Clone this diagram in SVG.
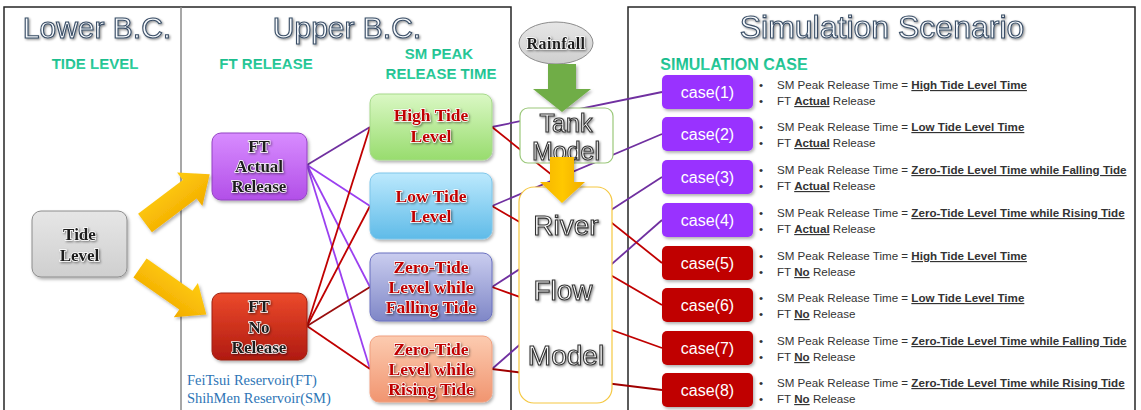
<svg xmlns="http://www.w3.org/2000/svg" width="1141" height="410" viewBox="0 0 1141 410">
<defs>
<style>
.frame{stroke:#262626;stroke-width:1.5;fill:none}
.ttl{font-family:"Liberation Sans",Arial,sans-serif;font-size:30px;fill:#f7fafd;stroke:#3a4e66;stroke-width:1.1px;text-anchor:middle}
.sub{font-family:"Liberation Sans",Arial,sans-serif;font-size:15px;font-weight:bold;fill:url(#gTeal);text-anchor:middle}
.big{font-family:"Liberation Sans",Arial,sans-serif;font-size:28px;fill:#ffffff;stroke:#333333;stroke-width:1.1px;text-anchor:middle}
.lbl{font-family:"Liberation Serif","Times New Roman",serif;font-weight:bold;font-size:17px;fill:#1c1c1c;stroke:#ffffff;stroke-width:1.4px;paint-order:stroke;text-anchor:middle}
.rlbl{font-family:"Liberation Serif","Times New Roman",serif;font-weight:bold;font-size:17.5px;fill:#c00000;stroke:#ffffff;stroke-width:1.4px;paint-order:stroke;text-anchor:middle}
.case{font-family:"Liberation Sans",Arial,sans-serif;font-size:16px;fill:#ffffff;text-anchor:middle}
.bul{font-family:"Liberation Sans",Arial,sans-serif;font-size:11.6px;fill:#333333}
.b{font-weight:bold;text-decoration:underline}
.note{font-family:"Liberation Serif","Times New Roman",serif;font-size:14.5px;fill:#2e75b6}
.cp{stroke:#9b40f0;stroke-width:1.8;fill:none}
.cr{stroke:#c00000;stroke-width:1.8;fill:none}
.pc{fill:#9933ff}
.rc{fill:#c00000}
</style>
<linearGradient id="gTeal" x1="0" y1="0" x2="0" y2="1"><stop offset="0" stop-color="#12b585"/><stop offset="1" stop-color="#3ad6a6"/></linearGradient>
<linearGradient id="gPurp" x1="0" y1="0" x2="0" y2="1"><stop offset="0" stop-color="#d88cff"/><stop offset="1" stop-color="#b24fe8"/></linearGradient>
<linearGradient id="gRed" x1="0" y1="0" x2="0" y2="1"><stop offset="0" stop-color="#ec4a2c"/><stop offset="1" stop-color="#b01a10"/></linearGradient>
<linearGradient id="gGreen" x1="0" y1="0" x2="0" y2="1"><stop offset="0" stop-color="#daf8c4"/><stop offset="1" stop-color="#98dc6e"/></linearGradient>
<linearGradient id="gBlue" x1="0" y1="0" x2="0" y2="1"><stop offset="0" stop-color="#bce9fd"/><stop offset="1" stop-color="#5fbbe8"/></linearGradient>
<linearGradient id="gLav" x1="0" y1="0" x2="0" y2="1"><stop offset="0" stop-color="#cacdef"/><stop offset="1" stop-color="#7f87c7"/></linearGradient>
<linearGradient id="gSal" x1="0" y1="0" x2="0" y2="1"><stop offset="0" stop-color="#fccbb0"/><stop offset="1" stop-color="#f19570"/></linearGradient>
<linearGradient id="gGray" x1="0" y1="0" x2="0" y2="1"><stop offset="0" stop-color="#e6e6e6"/><stop offset="1" stop-color="#cfcfcf"/></linearGradient>
<linearGradient id="gYel" x1="0" y1="0" x2="1" y2="0"><stop offset="0" stop-color="#f5b400"/><stop offset="0.5" stop-color="#ffc800"/><stop offset="1" stop-color="#f0ac00"/></linearGradient>
<linearGradient id="gYelV" x1="0" y1="0" x2="0" y2="1"><stop offset="0" stop-color="#ffcc10"/><stop offset="1" stop-color="#f2ac00"/></linearGradient>
<filter id="sh" x="-20%" y="-20%" width="150%" height="160%"><feDropShadow dx="1.5" dy="2" stdDeviation="1.5" flood-color="#000" flood-opacity="0.3"/></filter>
<filter id="tsh" x="-10%" y="-20%" width="130%" height="160%"><feDropShadow dx="1.2" dy="1.2" stdDeviation="0.8" flood-color="#000" flood-opacity="0.45"/></filter>
<polygon id="yarrow" points="0,-11.5 56,-11.5 56,-21 81,0 56,21 56,11.5 0,11.5"/>
</defs>
<rect width="1141" height="410" fill="#ffffff"/>

<g id="frame">
<path class="frame" d="M4,410 V7 H511 V410"/>
<path class="frame" d="M628,410 V7 H1135 V410"/>
<line x1="181" y1="7" x2="181" y2="410" stroke="#8a8a8a" stroke-width="1.5"/>
</g>

<g id="titles">
<text class="ttl" x="97" y="38" filter="url(#tsh)">Lower B.C.</text>
<text class="ttl" x="347" y="38" filter="url(#tsh)">Upper B.C.</text>
<text class="ttl" x="882" y="38" style="font-size:32px" filter="url(#tsh)">Simulation Scenario</text>
<text class="sub" x="95" y="69">TIDE LEVEL</text>
<text class="sub" x="266" y="69">FT RELEASE</text>
<text class="sub" x="439" y="59">SM PEAK</text>
<text class="sub" x="441" y="79">RELEASE TIME</text>
<text class="sub" x="734" y="70" style="font-size:16px">SIMULATION CASE</text>
<text class="note" x="187" y="385">FeiTsui Reservoir(FT)</text>
<text class="note" x="187" y="403">ShihMen Reservoir(SM)</text>
</g>

<g id="connectors">
<line x1="307" y1="165" x2="370" y2="127" class="cp" style="stroke:#7030a0"/>
<line x1="307" y1="165" x2="370" y2="206" class="cp"/>
<line x1="307" y1="165" x2="370" y2="287" class="cp"/>
<line x1="307" y1="165" x2="370" y2="369" class="cp"/>
<line x1="307" y1="326" x2="370" y2="127" class="cr"/>
<line x1="307" y1="326" x2="370" y2="206" class="cr"/>
<line x1="307" y1="326" x2="370" y2="287" class="cr" style="stroke:#9a0e0e"/>
<line x1="307" y1="326" x2="370" y2="369" class="cr"/>
<line x1="492" y1="127" x2="662" y2="92" class="cp" style="stroke:#7030a0"/>
<line x1="492" y1="206" x2="662" y2="134" class="cp" style="stroke:#7030a0"/>
<line x1="492" y1="287" x2="662" y2="177" class="cp" style="stroke:#7030a0"/>
<line x1="492" y1="369" x2="662" y2="220" class="cp" style="stroke:#7030a0"/>
<line x1="492" y1="127" x2="662" y2="263" class="cr"/>
<line x1="492" y1="206" x2="662" y2="305" class="cr"/>
<line x1="492" y1="287" x2="662" y2="348" class="cr"/>
<line x1="492" y1="369" x2="662" y2="390" class="cr" style="stroke:#a00000"/>
</g>

<g id="tide-level">
<rect x="32" y="211" width="95" height="66" rx="9" fill="url(#gGray)" stroke="#8c8c8c" stroke-width="1" filter="url(#sh)"/>
<text class="lbl" x="79.5" y="240" filter="url(#tsh)">Tide</text>
<text class="lbl" x="79.5" y="261" filter="url(#tsh)">Level</text>
</g>

<g id="ft-actual">
<rect x="212" y="133" width="95" height="67" rx="9" fill="url(#gPurp)" stroke="#9444c4" stroke-width="1" filter="url(#sh)"/>
<text class="lbl" x="259" y="152" filter="url(#tsh)">FT</text>
<text class="lbl" x="259" y="172" filter="url(#tsh)">Actual</text>
<text class="lbl" x="259" y="192" filter="url(#tsh)">Release</text>
</g>

<g id="ft-no">
<rect x="212" y="293" width="95" height="67" rx="9" fill="url(#gRed)" stroke="#9e2010" stroke-width="1" filter="url(#sh)"/>
<text class="lbl" x="259" y="312" filter="url(#tsh)">FT</text>
<text class="lbl" x="259" y="333" filter="url(#tsh)">No</text>
<text class="lbl" x="259" y="353" filter="url(#tsh)">Release</text>
</g>

<g id="high-tide">
<rect x="370" y="94" width="122" height="66" rx="9" fill="url(#gGreen)" stroke="#a6d98a" stroke-width="1" filter="url(#sh)"/>
<text class="rlbl" x="431" y="121" filter="url(#tsh)">High Tide</text>
<text class="rlbl" x="431" y="142" filter="url(#tsh)">Level</text>
</g>

<g id="low-tide">
<rect x="370" y="173" width="122" height="66" rx="9" fill="url(#gBlue)" stroke="#7ec6ea" stroke-width="1" filter="url(#sh)"/>
<text class="rlbl" x="431" y="202" filter="url(#tsh)">Low Tide</text>
<text class="rlbl" x="431" y="222" filter="url(#tsh)">Level</text>
</g>

<g id="zero-falling">
<rect x="370" y="253" width="122" height="68" rx="9" fill="url(#gLav)" stroke="#6a70c0" stroke-width="1" filter="url(#sh)"/>
<text class="rlbl" x="431" y="273" filter="url(#tsh)">Zero-Tide</text>
<text class="rlbl" x="431" y="293" filter="url(#tsh)">Level while</text>
<text class="rlbl" x="431" y="313" filter="url(#tsh)">Falling Tide</text>
</g>

<g id="zero-rising">
<rect x="370" y="336" width="122" height="66" rx="9" fill="url(#gSal)" stroke="#f0a080" stroke-width="1" filter="url(#sh)"/>
<text class="rlbl" x="431" y="355" filter="url(#tsh)">Zero-Tide</text>
<text class="rlbl" x="431" y="375" filter="url(#tsh)">Level while</text>
<text class="rlbl" x="431" y="395" filter="url(#tsh)">Rising Tide</text>
</g>

<g id="rainfall">
<ellipse cx="556" cy="43" rx="37" ry="21" fill="url(#gGray)" stroke="#8c8c8c" stroke-width="1"/>
<text class="lbl" x="556" y="49" style="font-size:16px;letter-spacing:0.5px" filter="url(#tsh)">Rainfall</text>
</g>

<g id="tank-model">
<rect x="520" y="108" width="93" height="55" rx="8" fill="#ffffff" stroke="#9bc87a" stroke-width="1.2"/>
<text class="big" x="566" y="132" style="font-size:25px" filter="url(#tsh)">Tank</text>
<text class="big" x="566" y="160" style="font-size:25px" filter="url(#tsh)">Model</text>
</g>

<g id="river-flow-model">
<rect x="519" y="187" width="93" height="216" rx="15" fill="#ffffff" stroke="#f5c842" stroke-width="1.2"/>
<text class="big" x="566" y="235" filter="url(#tsh)">River</text>
<text class="big" x="563" y="300" filter="url(#tsh)">Flow</text>
<text class="big" x="566" y="365" filter="url(#tsh)">Model</text>
</g>

<g id="block-arrows" filter="url(#sh)">
<use href="#yarrow" fill="url(#gYelV)" transform="translate(145,223) rotate(-37)"/>
<use href="#yarrow" fill="url(#gYelV)" transform="translate(140,268) rotate(35)"/>
<polygon points="548,64 576,64 576,89 591,89 562,112 533,89 548,89" fill="#70ad47"/>
<polygon points="550,157 574,157 574,182 585,182 562,203 540,182 550,182" fill="url(#gYel)"/>
</g>

<g id="case1">
<rect class="pc" x="662" y="75" width="91" height="34" rx="5" filter="url(#sh)"/>
<text class="case" x="707.5" y="98">case(1)</text>
<text class="bul" x="759" y="89">•</text><text class="bul" x="777" y="89">SM Peak Release Time = <tspan class="b">High Tide Level Time</tspan></text>
<text class="bul" x="759" y="105">•</text><text class="bul" x="777" y="105">FT <tspan class="b">Actual</tspan> Release</text>
</g>
<g id="case2">
<rect class="pc" x="662" y="117" width="91" height="34" rx="5" filter="url(#sh)"/>
<text class="case" x="707.5" y="140">case(2)</text>
<text class="bul" x="759" y="131">•</text><text class="bul" x="777" y="131">SM Peak Release Time = <tspan class="b">Low Tide Level Time</tspan></text>
<text class="bul" x="759" y="147">•</text><text class="bul" x="777" y="147">FT <tspan class="b">Actual</tspan> Release</text>
</g>
<g id="case3">
<rect class="pc" x="662" y="160" width="91" height="34" rx="5" filter="url(#sh)"/>
<text class="case" x="707.5" y="183">case(3)</text>
<text class="bul" x="759" y="174">•</text><text class="bul" x="777" y="174">SM Peak Release Time = <tspan class="b">Zero-Tide Level Time while Falling Tide</tspan></text>
<text class="bul" x="759" y="190">•</text><text class="bul" x="777" y="190">FT <tspan class="b">Actual</tspan> Release</text>
</g>
<g id="case4">
<rect class="pc" x="662" y="203" width="91" height="34" rx="5" filter="url(#sh)"/>
<text class="case" x="707.5" y="226">case(4)</text>
<text class="bul" x="759" y="217">•</text><text class="bul" x="777" y="217">SM Peak Release Time = <tspan class="b">Zero-Tide Level Time while Rising Tide</tspan></text>
<text class="bul" x="759" y="233">•</text><text class="bul" x="777" y="233">FT <tspan class="b">Actual</tspan> Release</text>
</g>
<g id="case5">
<rect class="rc" x="662" y="246" width="91" height="34" rx="5" filter="url(#sh)"/>
<text class="case" x="707.5" y="269">case(5)</text>
<text class="bul" x="759" y="260">•</text><text class="bul" x="777" y="260">SM Peak Release Time = <tspan class="b">High Tide Level Time</tspan></text>
<text class="bul" x="759" y="276">•</text><text class="bul" x="777" y="276">FT <tspan class="b">No</tspan> Release</text>
</g>
<g id="case6">
<rect class="rc" x="662" y="288" width="91" height="34" rx="5" filter="url(#sh)"/>
<text class="case" x="707.5" y="311">case(6)</text>
<text class="bul" x="759" y="302">•</text><text class="bul" x="777" y="302">SM Peak Release Time = <tspan class="b">Low Tide Level Time</tspan></text>
<text class="bul" x="759" y="318">•</text><text class="bul" x="777" y="318">FT <tspan class="b">No</tspan> Release</text>
</g>
<g id="case7">
<rect class="rc" x="662" y="331" width="91" height="34" rx="5" filter="url(#sh)"/>
<text class="case" x="707.5" y="354">case(7)</text>
<text class="bul" x="759" y="345">•</text><text class="bul" x="777" y="345">SM Peak Release Time = <tspan class="b">Zero-Tide Level Time while Falling Tide</tspan></text>
<text class="bul" x="759" y="361">•</text><text class="bul" x="777" y="361">FT <tspan class="b">No</tspan> Release</text>
</g>
<g id="case8">
<rect class="rc" x="662" y="373" width="91" height="34" rx="5" filter="url(#sh)"/>
<text class="case" x="707.5" y="396">case(8)</text>
<text class="bul" x="759" y="387">•</text><text class="bul" x="777" y="387">SM Peak Release Time = <tspan class="b">Zero-Tide Level Time while Rising Tide</tspan></text>
<text class="bul" x="759" y="403">•</text><text class="bul" x="777" y="403">FT <tspan class="b">No</tspan> Release</text>
</g>
</svg>
